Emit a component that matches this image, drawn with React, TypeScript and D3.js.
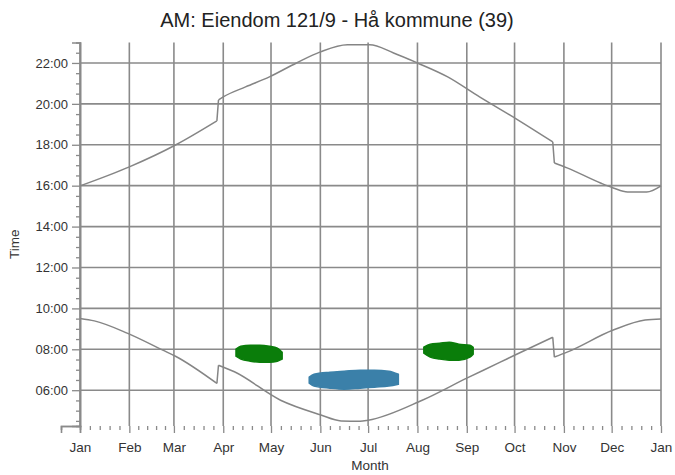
import React, { useEffect, useRef } from 'react';
import * as d3 from 'd3';

// day of year (0 = Jan 1) and hour of day.
// each curve is split where the clock changes (late March / late October)
const sunsetSegments: [number, number][][] = [
  [[0, 15.99], [31, 16.92], [60, 17.99], [86, 19.17]],
  [[87, 20.19], [90, 20.34], [104, 20.83], [119, 21.32], [136, 22.0], [151, 22.54],
   [168, 22.89], [182, 22.89], [197, 22.49], [212, 22.0], [231, 21.32], [251, 20.34],
   [275, 19.22], [297, 18.14]],
  [[298, 17.11], [306, 16.87], [327, 16.13], [335, 15.89], [344, 15.69], [356, 15.69],
   [365, 15.99]],
];

const sunriseSegments: [number, number][][] = [
  [[0, 9.51], [9, 9.39], [30, 8.78], [52, 7.96], [60, 7.66], [86, 6.33]],
  [[87, 7.22], [97, 6.9], [126, 5.51], [151, 4.8], [164, 4.5], [176, 4.48], [181, 4.53],
   [215, 5.51], [243, 6.59], [264, 7.37], [273, 7.71], [297, 8.59]],
  [[298, 7.62], [306, 7.86], [335, 8.94], [355, 9.43], [365, 9.48]],
];

// shadow periods: [day, top hour, bottom hour]
const shadowSpring: [number, number, number][] = [
  [98.4, 8.01, 7.66], [101, 8.15, 7.52], [107, 8.2, 7.42], [113, 8.2, 7.37],
  [119, 8.15, 7.37], [124, 8.06, 7.42], [127.7, 7.86, 7.52],
];
const shadowSummer: [number, number, number][] = [
  [144, 6.64, 6.34], [147.6, 6.78, 6.2], [157, 6.88, 6.1], [166.5, 6.93, 6.05],
  [176, 6.98, 6.1], [185, 6.98, 6.15], [194.7, 6.93, 6.2], [200, 6.78, 6.29],
];
const shadowAutumn: [number, number, number][] = [
  [216.3, 8.1, 7.81], [220, 8.25, 7.62], [226, 8.3, 7.52], [232.4, 8.35, 7.47],
  [238.7, 8.25, 7.47], [245, 8.2, 7.62], [247.7, 8.1, 7.76],
];

const monthLabels = ['Jan', 'Feb', 'Mar', 'Apr', 'May', 'Jun', 'Jul', 'Aug', 'Sep', 'Oct', 'Nov', 'Dec', 'Jan'];
const hourTicks = [6, 8, 10, 12, 14, 16, 18, 20, 22];

const YEAR = 2011;
const dayToDate = (d: number) => new Date(YEAR, 0, 1 + d);
const fmtHour = (h: number) => `${String(Math.floor(h)).padStart(2, '0')}:00`;

export default function App() {
  const svgRef = useRef<SVGSVGElement>(null);

  useEffect(() => {
    const width = 675;
    const height = 475;
    const margin = { top: 42.5, right: 14, bottom: 49, left: 80 };
    const font = '"Liberation Sans", Arial, sans-serif';
    const gridColor = '#8a8a8a';
    const textColor = '#333';

    const svg = d3.select(svgRef.current);
    svg.selectAll('*').remove();
    svg.attr('width', width).attr('height', height);

    const x = d3.scaleTime()
      .domain([new Date(YEAR, 0, 1), new Date(YEAR + 1, 0, 1)])
      .range([margin.left, width - margin.right]);
    const y = d3.scaleLinear()
      .domain([4.25, 23])
      .range([height - margin.bottom, margin.top]);

    const months = d3.timeMonth.range(new Date(YEAR, 0, 1), new Date(YEAR + 1, 0, 2));

    // grid
    svg.append('g')
      .selectAll('line')
      .data(months)
      .join('line')
      .attr('x1', d => x(d)).attr('x2', d => x(d))
      .attr('y1', y(23)).attr('y2', y(4.25))
      .attr('stroke', gridColor).attr('stroke-width', 1.6);
    svg.append('g')
      .selectAll('line')
      .data(hourTicks)
      .join('line')
      .attr('x1', x.range()[0]).attr('x2', x.range()[1])
      .attr('y1', d => y(d)).attr('y2', d => y(d))
      .attr('stroke', gridColor).attr('stroke-width', 1.6);

    // x axis with minor ticks (fifths of each month)
    const minorX: Date[] = [];
    months.slice(0, 12).forEach(m => {
      const next = d3.timeMonth.offset(m, 1);
      for (let i = 1; i < 5; i++) minorX.push(new Date(+m + (i / 5) * (+next - +m)));
    });
    const xAxis = svg.append('g').attr('transform', `translate(0,${y(4.25)})`);
    xAxis.call(d3.axisBottom(x).tickValues(months).tickSize(7).tickFormat((_, i) => monthLabels[i]));
    xAxis.append('g').call(d3.axisBottom(x).tickValues(minorX).tickSize(4).tickFormat(() => ''));
    xAxis.selectAll('line').attr('stroke', gridColor).attr('stroke-width', 1.3);
    xAxis.selectAll('text')
      .attr('dy', '1.2em')
      .attr('font-family', font).attr('font-size', 13.5).attr('fill', textColor);

    // y axis with half-hour minor ticks
    const minorY = d3.range(4.5, 23, 0.5).filter(h => h % 2 !== 0);
    const yAxis = svg.append('g').attr('transform', `translate(${margin.left},0)`);
    yAxis.call(d3.axisLeft(y).tickValues(hourTicks).tickSize(8).tickPadding(4).tickFormat(d => fmtHour(+d)));
    yAxis.append('g').call(d3.axisLeft(y).tickValues(minorY).tickSize(4).tickFormat(() => ''));
    yAxis.selectAll('line').attr('stroke', gridColor).attr('stroke-width', 1.3);
    yAxis.selectAll('text')
      .attr('font-family', font).attr('font-size', 13).attr('fill', textColor);
    // plain axis lines without end caps
    svg.selectAll('.domain').attr('d', function () {
      return d3.select(this).attr('d').replace(/V6|V-6|H-6|H6/g, m => m[0] + '0');
    }).attr('stroke', gridColor).attr('stroke-width', 1.6);

    // sunrise / sunset curves
    const line = d3.line<[number, number]>()
      .x(d => x(dayToDate(d[0])))
      .y(d => y(d[1]))
      .curve(d3.curveMonotoneX);
    const path = d3.path();
    [sunsetSegments, sunriseSegments].forEach(segs => {
      segs.forEach((seg, i) => {
        if (i > 0) {
          // vertical clock-change step joining the previous segment
          const prev = segs[i - 1][segs[i - 1].length - 1];
          path.moveTo(x(dayToDate(prev[0])), y(prev[1]));
          path.lineTo(x(dayToDate(seg[0][0])), y(seg[0][1]));
        }
      });
    });
    svg.append('path')
      .attr('d', path.toString())
      .attr('fill', 'none')
      .attr('stroke', '#858585')
      .attr('stroke-width', 1.5);
    [...sunsetSegments, ...sunriseSegments].forEach(seg => {
      svg.append('path')
        .attr('d', line(seg))
        .attr('fill', 'none')
        .attr('stroke', '#858585')
        .attr('stroke-width', 1.5);
    });

    // shadow periods
    const area = d3.area<[number, number, number]>()
      .x(d => x(dayToDate(d[0])))
      .y0(d => y(d[2]))
      .y1(d => y(d[1]))
      .curve(d3.curveMonotoneX);
    const shadows: [[number, number, number][], string][] = [
      [shadowSpring, '#0a7d0a'],
      [shadowSummer, '#3b80a9'],
      [shadowAutumn, '#0a7d0a'],
    ];
    shadows.forEach(([pts, color]) => {
      svg.append('path')
        .attr('d', area(pts))
        .attr('fill', color)
        .attr('stroke', color)
        .attr('stroke-width', 1.5);
    });

    // titles
    svg.append('text')
      .attr('x', 337).attr('y', 27)
      .attr('text-anchor', 'middle')
      .attr('font-family', font).attr('font-size', 20).attr('fill', '#222')
      .text('AM: Eiendom 121/9 - Hå kommune (39)');
    svg.append('text')
      .attr('x', 370).attr('y', 470)
      .attr('text-anchor', 'middle')
      .attr('font-family', font).attr('font-size', 13.5).attr('fill', textColor)
      .text('Month');
    svg.append('text')
      .attr('transform', `translate(19,${(y(4.25) + y(23)) / 2 + 10}) rotate(-90)`)
      .attr('text-anchor', 'middle')
      .attr('font-family', font).attr('font-size', 13.5).attr('fill', textColor)
      .text('Time');
  }, []);

  return <svg ref={svgRef} style={{ position: 'absolute', left: 0, top: 0 }}></svg>;
}
